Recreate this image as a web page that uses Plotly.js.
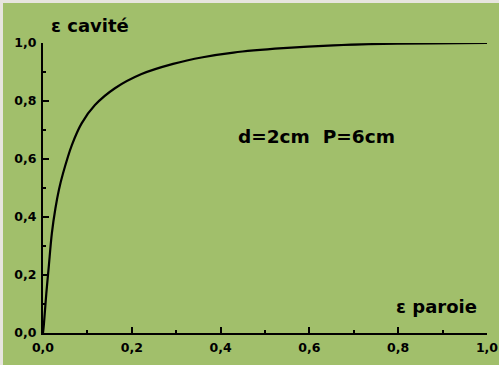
<!DOCTYPE html>
<html>
<head>
<meta charset="utf-8">
<script src="https://cdn.plot.ly/plotly-3.0.1.min.js"></script>
<style>
html,body{margin:0;padding:0;background:#e7e5df;width:499px;height:365px;overflow:hidden;}
#chart{position:absolute;left:3px;top:3px;width:496px;height:362px;}
</style>
</head>
<body>
<div id="chart"></div>
<script>
const epsParoi = [0, 0.002, 0.0075, 0.013, 0.020, 0.028, 0.036, 0.045, 0.065, 0.087, 0.117, 0.162, 0.222, 0.293, 0.36, 0.429, 0.541, 0.654, 0.766, 0.879, 1.0];
const epsCavite = [0, 0.03, 0.137, 0.229, 0.344, 0.43, 0.495, 0.55, 0.648, 0.723, 0.786, 0.844, 0.893, 0.928, 0.951, 0.967, 0.982, 0.992, 0.997, 0.999, 1.0];
const tickVals = [0, 0.2, 0.4, 0.6, 0.8, 1.0];
const tickText = ['0,0', '0,2', '0,4', '0,6', '0,8', '1,0'];
const yTitle = 'ε cavité';
const xTitle = 'ε paroie';
const note = 'd=2cm\u00a0\u00a0P=6cm';

const green = '#a1bf6b';
const fontFam = 'DejaVu Sans, Liberation Sans, Arial, sans-serif';

const axisCommon = {
  range: [0, 1],
  showgrid: false,
  zeroline: false,
  showline: true,
  linecolor: 'black',
  linewidth: 2,
  ticks: 'inside',
  ticklen: 6,
  tickwidth: 2,
  tickcolor: 'black',
  tickmode: 'array',
  tickvals: tickVals,
  ticktext: tickText,
  tickfont: {family: fontFam, size: 12.5, color: 'black', weight: 'bold'},
  minor: {dtick: 0.1, ticks: 'inside', ticklen: 3, tickwidth: 2, tickcolor: 'black', showgrid: false},
  fixedrange: true
};

const trace = {
  x: epsParoi,
  y: epsCavite,
  type: 'scatter',
  mode: 'lines',
  line: {color: 'black', width: 2.2, shape: 'spline', smoothing: 1.0},
  hoverinfo: 'skip'
};

const layout = {
  width: 496,
  height: 362,
  margin: {l: 40, r: 12, t: 40, b: 32, pad: 0},
  paper_bgcolor: green,
  plot_bgcolor: green,
  showlegend: false,
  xaxis: Object.assign({}, axisCommon, {ticklabelstandoff: 2}),
  yaxis: Object.assign({}, axisCommon, {ticklabelstandoff: 2}),
  annotations: [
    {text: yTitle, xref: 'paper', yref: 'paper', x: 0.106, y: 1.062, xanchor: 'center', yanchor: 'middle', showarrow: false,
     font: {family: fontFam, size: 18, color: 'black', weight: 'bold'}},
    {text: xTitle, xref: 'paper', yref: 'paper', x: 0.886, y: 0.0897, xanchor: 'center', yanchor: 'middle', showarrow: false,
     font: {family: fontFam, size: 18, color: 'black', weight: 'bold'}},
    {text: note, xref: 'paper', yref: 'paper', x: 0.616, y: 0.679, xanchor: 'center', yanchor: 'middle', showarrow: false,
     font: {family: fontFam, size: 18.5, color: 'black', weight: 'bold'}}
  ]
};

Plotly.newPlot('chart', [trace], layout, {staticPlot: true, displayModeBar: false});
</script>
</body>
</html>
